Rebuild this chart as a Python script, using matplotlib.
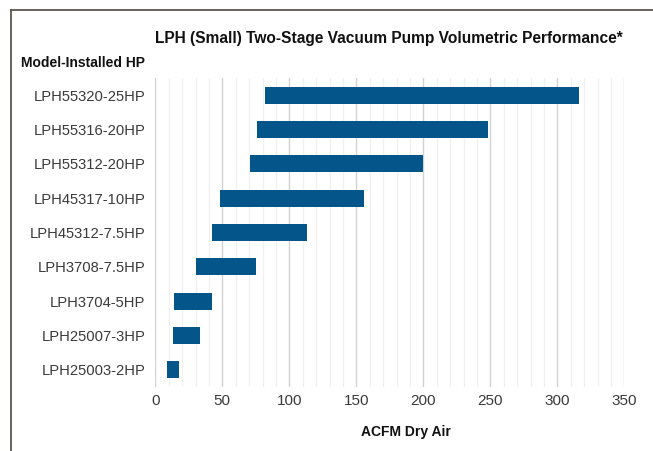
import matplotlib
matplotlib.use("Agg")
import matplotlib.pyplot as plt
from matplotlib.lines import Line2D
from matplotlib.ticker import MultipleLocator

models = ["LPH55320-25HP", "LPH55316-20HP", "LPH55312-20HP", "LPH45317-10HP",
          "LPH45312-7.5HP", "LPH3708-7.5HP", "LPH3704-5HP", "LPH25007-3HP",
          "LPH25003-2HP"]
acfm_min = [82, 76, 71, 48, 42, 30, 14, 13, 9]
acfm_max = [316, 248, 200, 156, 113, 75, 42, 33, 18]
x_ticks = [0, 50, 100, 150, 200, 250, 300, 350]

plt.rcParams['font.family'] = ['Liberation Sans', 'DejaVu Sans']

W, H = 653, 451
fig = plt.figure(figsize=(W / 100, H / 100), dpi=100)
ax = fig.add_axes([155.3 / W, 1 - 387 / H, (624.3 - 155.3) / W, (387 - 78) / H])

ypos = list(range(len(models)))
widths = [b - a for a, b in zip(acfm_min, acfm_max)]
ax.barh(ypos, widths, left=acfm_min, height=0.5, color="#03558a", zorder=3)

ax.set_ylim(len(models) - 0.5, -0.5)
ax.set_xlim(0, 350)
ax.set_yticks(ypos)
ax.set_yticklabels(models, fontsize=10.6, color="#3a3a3a")
ax.set_xticks(x_ticks)
ax.set_xticklabels([str(t) for t in x_ticks], fontsize=11, color="#3a3a3a")
ax.xaxis.set_minor_locator(MultipleLocator(10))
ax.tick_params(axis='both', which='both', length=0)
ax.tick_params(axis='y', pad=7.2)
ax.tick_params(axis='x', pad=5)
ax.grid(axis='x', which='major', color="#d2d2d2", linewidth=1.0, zorder=0)
ax.grid(axis='x', which='minor', color="#f1f1f1", linewidth=1.0, zorder=0)
for s in ax.spines.values():
    s.set_visible(False)

fig.text(389 / W, 1 - 38.5 / H, "LPH (Small) Two-Stage Vacuum Pump Volumetric Performance*",
         ha='center', va='center', fontsize=11.2, fontweight='bold', color="#111111")
fig.text(145 / W, 1 - 63 / H, "Model-Installed HP", ha='right', va='center',
         fontsize=10, fontweight='bold', color="#111111")
fig.text(406 / W, 1 - 432 / H, "ACFM Dry Air", ha='center', va='center',
         fontsize=10, fontweight='bold', color="#111111")

fig.add_artist(Line2D([11 / W, 1], [1 - 10 / H, 1 - 10 / H], color="#5b5650", linewidth=1.3))
fig.add_artist(Line2D([11 / W, 11 / W], [1 - 10 / H, 0], color="#5b5650", linewidth=1.3))

fig.savefig("out.png", dpi=100)
